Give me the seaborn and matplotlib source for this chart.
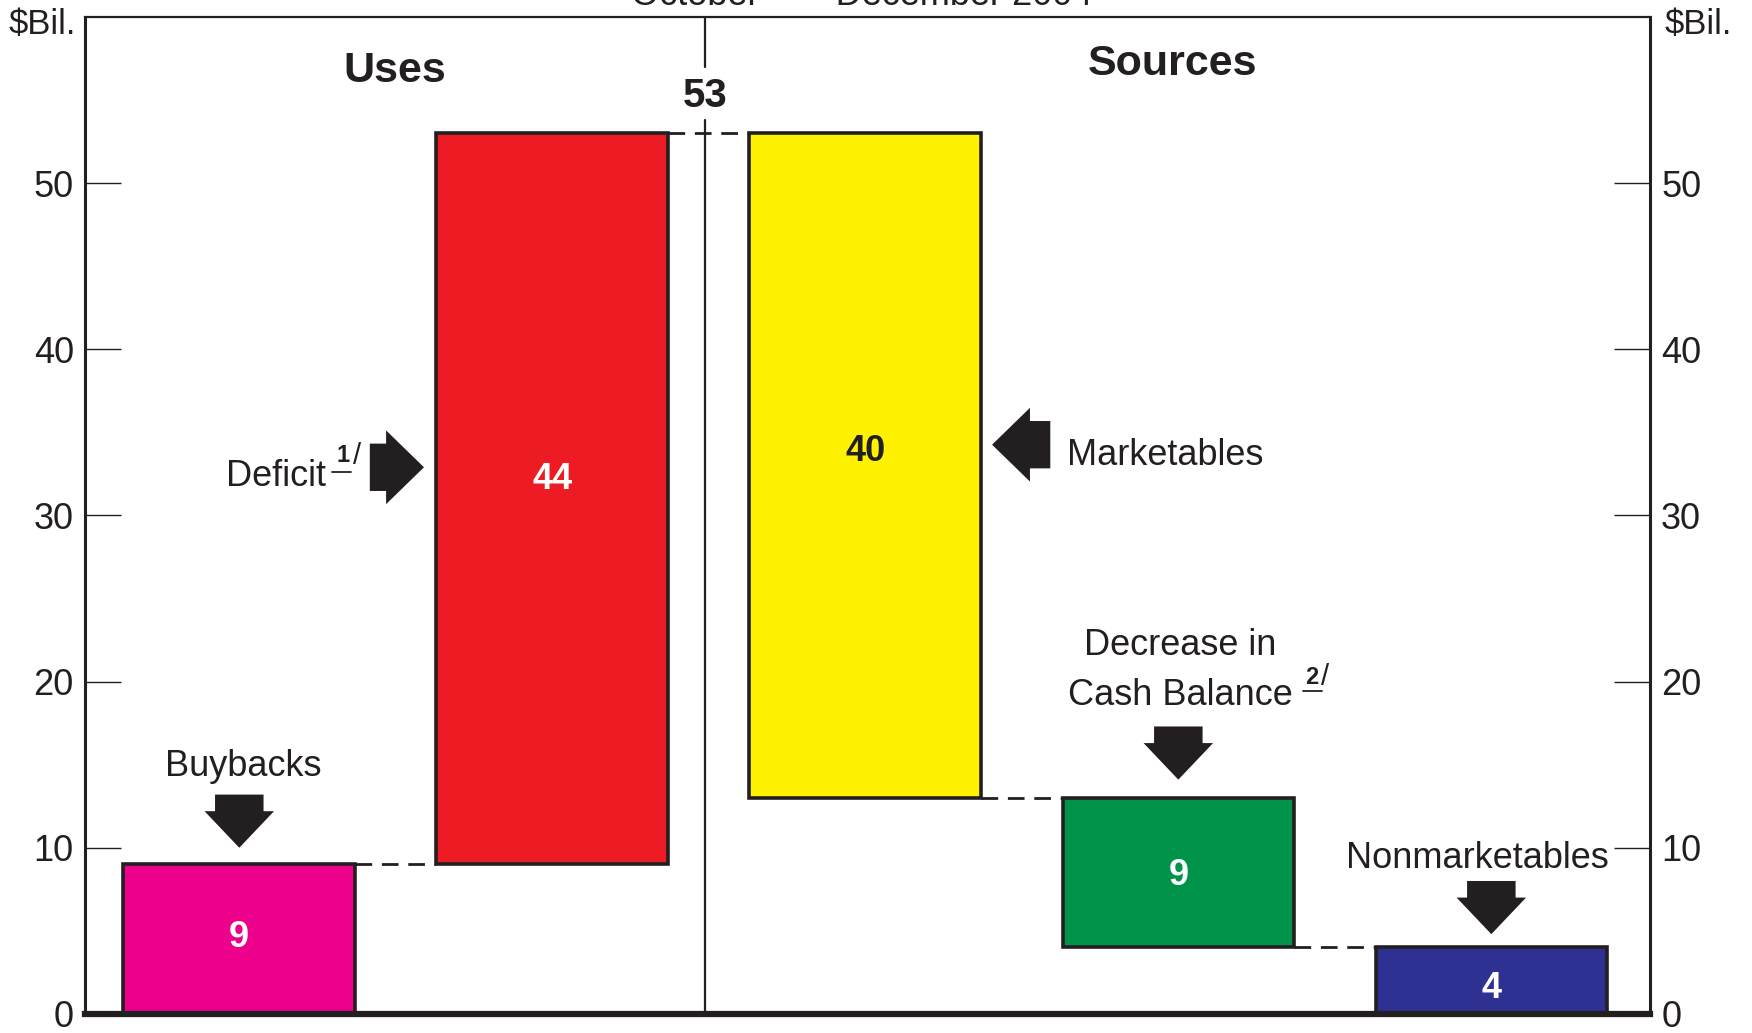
import numpy as np
import pandas as pd
import matplotlib
matplotlib.use("Agg")
import matplotlib.pyplot as plt
from matplotlib.patches import FancyArrow
import seaborn as sns

# ---------------------------------------------------------------
# DATA  ($ billions, October - December 2004)
# ---------------------------------------------------------------
CATEGORIES = ["Buybacks", "Deficit", "Marketables", "Cash Balance", "Nonmarketables"]
BAR_BOTTOM = [0, 9, 13, 4, 0]
BAR_VALUE = [9, 44, 40, 9, 4]
BAR_COLORS = ["#EC008C", "#ED1C24", "#FFF200", "#00934A", "#2E3192"]
VALUE_COLORS = ["white", "white", "#231F20", "white", "white"]
TOTAL = 53
YTICKS = [0, 10, 20, 30, 40, 50]

# layout only: vertical nudge of the value labels from bar middles
LABEL_NUDGE = [0.1, 1.15, 0.85, -0.15, -0.5]

INK = "#231F20"
BAR_W = 0.74

sns.set_theme(style="white")
plt.rcParams["font.family"] = ["Liberation Sans", "DejaVu Sans"]

df = pd.DataFrame({"cat": CATEGORIES, "value": BAR_VALUE})

fig = plt.figure(figsize=(17.52, 10.33), dpi=100)
ax = fig.add_axes([0.0485, 0.0185, 0.8933, 0.965])

sns.barplot(data=df, x="cat", y="value", hue="cat", palette=BAR_COLORS,
            legend=False, width=BAR_W, saturation=1, edgecolor=INK,
            linewidth=2.6, ax=ax)
# float each bar from its base
for patch, b in zip(ax.patches, BAR_BOTTOM):
    patch.set_y(b)
    patch.set_zorder(3)

ax.set_xlim(-0.493, len(CATEGORIES) - 0.493)
ax.set_ylim(0, 60)
ax.set_xlabel("")
ax.set_ylabel("")
ax.set_yticks(YTICKS)
ax.tick_params(axis="x", bottom=False, labelbottom=False)
ax.tick_params(axis="y", direction="in", length=26, width=1.0, color=INK,
               left=True, right=True, labelleft=True, labelright=True,
               labelsize=26, labelcolor=INK, pad=8)
for side, lw in [("left", 2.2), ("right", 2.2), ("top", 1.6), ("bottom", 4.5)]:
    ax.spines[side].set_visible(True)
    ax.spines[side].set_color(INK)
    ax.spines[side].set_linewidth(lw)
ax.spines["bottom"].set_zorder(5)

# dashed connectors between adjacent bars that share a level
tops = [b + v for b, v in zip(BAR_BOTTOM, BAR_VALUE)]
for i in range(len(CATEGORIES) - 1):
    shared = {BAR_BOTTOM[i], tops[i]} & {BAR_BOTTOM[i + 1], tops[i + 1]}
    for lvl in shared:
        if lvl == 0:
            continue
        ax.plot([i + BAR_W / 2, i + 1 - BAR_W / 2], [lvl, lvl], color=INK,
                lw=2.0, dashes=(6, 3.5), zorder=2)

# Uses / Sources divider, broken around the total
DIV_X = 1.487
ax.plot([DIV_X, DIV_X], [57.0, 60], color=INK, lw=1.6, zorder=4)
ax.plot([DIV_X, DIV_X], [0, 53.8], color=INK, lw=1.6, zorder=4)
ax.text(DIV_X, 54.6, str(TOTAL), ha="center", va="baseline", fontsize=29,
        fontweight="bold", color=INK)
ax.text(0.497, 56.1, "Uses", ha="center", va="baseline", fontsize=31,
        fontweight="bold", color=INK)
ax.text(2.98, 56.5, "Sources", ha="center", va="baseline", fontsize=31,
        fontweight="bold", color=INK)

# values inside bars
for i, (b, v) in enumerate(zip(BAR_BOTTOM, BAR_VALUE)):
    ax.text(i, b + v / 2 + LABEL_NUDGE[i], str(v), ha="center", va="center",
            fontsize=26, fontweight="bold", color=VALUE_COLORS[i], zorder=6)


def down_arrow(x, tip):
    ax.add_patch(FancyArrow(x, tip + 3.2, 0, -3.2, width=0.155, head_width=0.222,
                            head_length=2.2, length_includes_head=True,
                            color=INK, lw=0, zorder=6))


def side_arrow(tip_x, y, direction, ln):
    ax.add_patch(FancyArrow(tip_x - direction * ln, y, direction * ln, 0,
                            width=2.85, head_width=4.44, head_length=0.121,
                            length_includes_head=True, color=INK, lw=0, zorder=6))


down_arrow(0, tops[0] + 1.0)
down_arrow(3, tops[3] + 1.1)
down_arrow(4, tops[4] + 0.8)
side_arrow(1 - BAR_W / 2 - 0.04, 32.9, 1, 0.173)
side_arrow(2 + BAR_W / 2 + 0.035, 34.26, -1, 0.186)

# category labels
lab = dict(fontsize=26, color=INK)
ax.text(0.014, 14.3, "Buybacks", ha="center", va="baseline", **lab)
ax.text(0.276, 31.8, "Deficit", ha="right", va="baseline", **lab)
ax.text(2.644, 33.06, "Marketables", ha="left", va="baseline", **lab)
ax.text(3.005, 21.6, "Decrease in", ha="center", va="baseline", **lab)
ax.text(3.005, 18.6, "Cash Balance", ha="center", va="baseline", **lab)
ax.text(3.954, 8.8, "Nonmarketables", ha="center", va="baseline", **lab)


def footnote(xd, yd, x0, x1, yl, xs, n):
    ax.text(xd, yd, n, ha="center", va="center", fontsize=17, fontweight="bold",
            color=INK)
    ax.plot([x0, x1], [yl, yl], color=INK, lw=1.3)
    ax.text(xs, yd, "/", ha="center", va="center", fontsize=21, color=INK)


footnote(0.333, 33.6, 0.296, 0.356, 32.64, 0.375, "1")
footnote(3.425, 20.25, 3.398, 3.458, 19.44, 3.468, "2")

# units and (clipped) period title
fig.text(9 / 1752, 1 - 34 / 1033, "$Bil.", ha="left", va="baseline",
         fontsize=25, color=INK)
fig.text(1665 / 1752, 1 - 34 / 1033, "$Bil.", ha="left", va="baseline",
         fontsize=25, color=INK)
fig.text(862 / 1752, 1 - 5 / 1033, "October  \u2014  December 2004", ha="center",
         va="baseline", fontsize=26, color=INK)

fig.savefig("out.png", dpi=100)
plt.close(fig)
